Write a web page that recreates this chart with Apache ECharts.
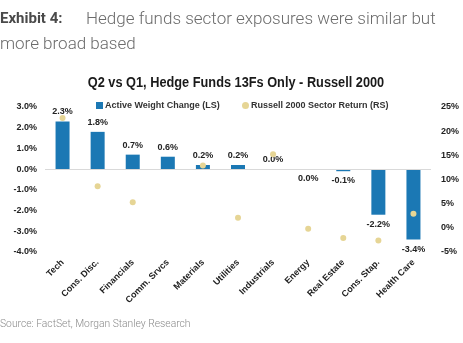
<!DOCTYPE html>
<html>
<head>
<meta charset="utf-8">
<script src="https://cdn.jsdelivr.net/npm/echarts@6/dist/echarts.min.js"></script>
<style>
  html, body { margin: 0; padding: 0; background: #fff; }
  #chart { width: 463px; height: 343px; }
</style>
</head>
<body>
<div id="chart"></div>
<script>
// Sectors on the category axis
const sectors = ['Tech', 'Cons. Disc.', 'Financials', 'Comm. Srvcs', 'Materials', 'Utilities',
  'Industrials', 'Energy', 'Real Estate', 'Cons. Stap.', 'Health Care'];
// Active weight change, Q2 vs Q1 (%, left scale)
const activeWeightChange = [2.3, 1.8, 0.7, 0.6, 0.2, 0.2, 0.0, 0.0, -0.1, -2.2, -3.4];
// Where the value label sits relative to each bar
const labelSide = ['top', 'top', 'top', 'top', 'top', 'top', 'top', 'bottom', 'bottom', 'bottom', 'bottom'];
// Russell 2000 sector return (%, right scale); no point shown for Comm. Srvcs
const sectorReturn = [22.7, 8.6, 5.3, null, 12.9, 2.1, 15.2, -0.2, -2.1, -2.6, 2.9];
// Axis ticks
const leftTicks = { min: -4, max: 3, step: 1 };
const rightTicks = { min: -5, max: 25, step: 5 };

const sans = '"Liberation Sans", Arial, sans-serif';
const barColor = '#1b78b4';
const dotColor = '#e6d595';
const labelText = { fontFamily: sans, fontWeight: 'bold', fontSize: 9, color: '#222' };

const chart = echarts.init(document.getElementById('chart'), null, { renderer: 'canvas' });

chart.setOption({
  animation: false,
  backgroundColor: '#ffffff',
  graphic: [
    {
      type: 'text', x: 0, y: 12,
      style: { text: 'Exhibit 4:', font: 'bold 15px Roboto, sans-serif', fill: '#4a4a4a', verticalAlign: 'top' }
    },
    {
      type: 'text', x: 86, y: 11,
      style: { text: 'Hedge funds sector exposures were similar but', font: '300 17px Roboto, sans-serif', fill: '#6b6b6b', verticalAlign: 'top' }
    },
    {
      type: 'text', x: 0, y: 36,
      style: { text: 'more broad based', font: '300 17px Roboto, sans-serif', fill: '#6b6b6b', verticalAlign: 'top' }
    },
    {
      // chart heading, set in a narrowed bold face
      type: 'text', x: 236, y: 83, scaleX: 0.88,
      style: {
        text: 'Q2 vs Q1, Hedge Funds 13Fs Only - Russell 2000',
        font: 'bold 14.5px ' + sans, fill: '#1a1a1a', align: 'center', verticalAlign: 'middle'
      }
    },
    {
      type: 'text', x: 0, y: 319,
      style: { text: 'Source: FactSet, Morgan Stanley Research', font: '300 10.3px Roboto, sans-serif', fill: '#8a8a8a', verticalAlign: 'top' }
    }
  ],
  legend: [
    {
      top: 96, left: 91, itemWidth: 7, itemHeight: 7, itemGap: 0,
      textStyle: Object.assign({}, labelText, { color: '#333', padding: [0, 0, 0, -3] }),
      data: [{ name: 'Active Weight Change (LS)', icon: 'rect' }]
    },
    {
      top: 96, left: 237, itemWidth: 7, itemHeight: 7, itemGap: 0,
      textStyle: Object.assign({}, labelText, { color: '#333', padding: [0, 0, 0, -3] }),
      data: [{ name: 'Russell 2000 Sector Return (RS)', icon: 'circle' }]
    }
  ],
  grid: { left: 45, right: 32, top: 107, bottom: 91 },
  xAxis: {
    type: 'category',
    data: sectors,
    axisLine: { show: false, onZero: false },
    axisTick: { show: false },
    axisLabel: Object.assign({ rotate: 45, margin: 9, interval: 0 }, labelText)
  },
  yAxis: [
    {
      type: 'value', min: leftTicks.min, max: leftTicks.max, interval: leftTicks.step,
      splitLine: { show: false }, axisLine: { show: false }, axisTick: { show: false },
      axisLabel: Object.assign({ formatter: v => v.toFixed(1) + '%', margin: 8 }, labelText)
    },
    {
      type: 'value', min: rightTicks.min, max: rightTicks.max, interval: rightTicks.step,
      splitLine: { show: false }, axisLine: { show: false }, axisTick: { show: false },
      axisLabel: Object.assign({ formatter: v => v + '%', margin: 10 }, labelText)
    }
  ],
  series: [
    {
      name: 'Active Weight Change (LS)',
      type: 'bar',
      yAxisIndex: 0,
      barWidth: 14,
      itemStyle: { color: barColor },
      data: activeWeightChange.map((v, i) => ({
        value: v,
        label: { position: labelSide[i] }
      })),
      label: Object.assign({ show: true, distance: 5, formatter: p => p.value.toFixed(1) + '%' }, labelText),
      markLine: {
        silent: true, symbol: 'none', label: { show: false },
        lineStyle: { color: '#d9d9d9', type: 'solid', width: 1 },
        data: [{ yAxis: 0 }]
      },
      z: 2
    },
    {
      name: 'Russell 2000 Sector Return (RS)',
      type: 'scatter',
      yAxisIndex: 1,
      symbolSize: 6,
      itemStyle: { color: dotColor, opacity: 1 },
      data: sectorReturn,
      z: 3
    }
  ]
});
</script>
</body>
</html>
